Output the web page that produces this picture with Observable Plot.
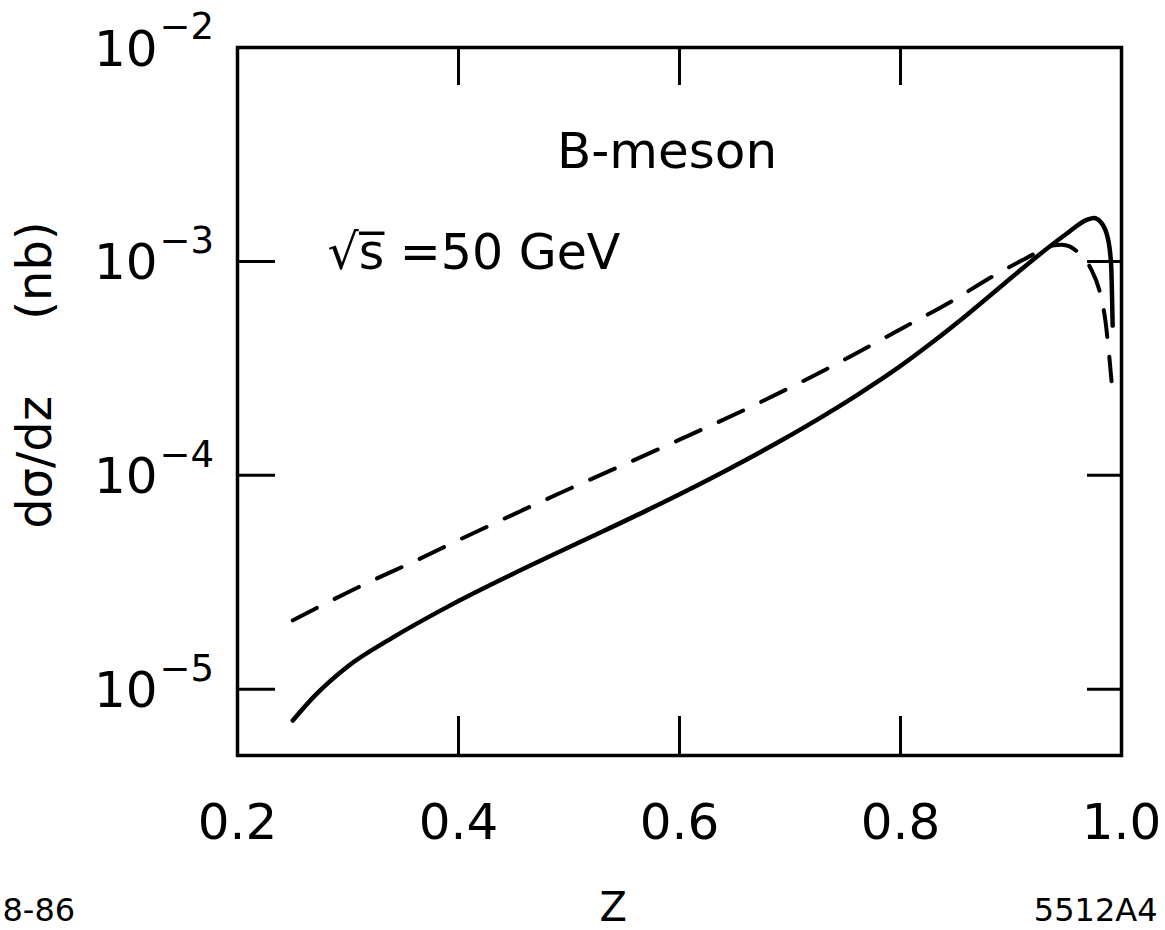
<!DOCTYPE html>
<html><head><meta charset="utf-8">
<script src="https://cdn.jsdelivr.net/npm/d3@7"></script>
<script src="https://cdn.jsdelivr.net/npm/@observablehq/plot@0.6"></script>
<style>html,body{margin:0;padding:0;background:#fff}svg{display:block}</style>
</head><body><div id="chart"></div>
<script>
// Tick values and labels
const xTicks = [0.2, 0.4, 0.6, 0.8, 1.0];
const xTickLabels = ["0.2", "0.4", "0.6", "0.8", "1.0"];
const yTicks = [1e-2, 1e-3, 1e-4, 1e-5];
const yTickExponents = ["\u22122", "\u22123", "\u22124", "\u22125"];

// Solid curve
const solidZ = [0.25, 0.27, 0.30, 0.34, 0.39, 0.45, 0.51, 0.57, 0.64, 0.69, 0.73, 0.76, 0.79, 0.83, 0.86, 0.89, 0.92, 0.95, 0.969, 0.975, 0.981, 0.9876, 0.9906, 0.992];
const solidV = [7.14e-6, 9.33e-6, 1.282e-5, 1.738e-5, 2.427e-5, 3.475e-5, 4.875e-5, 6.84e-5, 1.040e-4, 1.435e-4, 1.892e-4, 2.360e-4, 2.985e-4, 4.236e-4, 5.623e-4, 7.568e-4, 1.019e-3, 1.343e-3, 1.567e-3, 1.596e-3, 1.531e-3, 1.285e-3, 9.64e-4, 5.01e-4];

// Dashed curve
const dashedZ = [0.25, 0.314, 0.36, 0.403, 0.49, 0.58, 0.667, 0.755, 0.797, 0.85, 0.88, 0.91, 0.924, 0.939, 0.946, 0.953, 0.962, 0.972, 0.981, 0.9855, 0.9885, 0.991];
const dashedV = [2.10e-5, 3.08e-5, 3.96e-5, 5.06e-5, 8.18e-5, 1.318e-4, 2.12e-4, 3.60e-4, 4.73e-4, 6.68e-4, 8.32e-4, 1.012e-3, 1.102e-3, 1.189e-3, 1.197e-3, 1.175e-3, 1.085e-3, 9.31e-4, 6.98e-4, 5.25e-4, 3.79e-4, 2.75e-4];

const solid = solidZ.map((z, i) => ({z, v: solidV[i]}));
const dashed = dashedZ.map((z, i) => ({z, v: dashedV[i]}));
const xInner = xTicks.slice(1, -1);
const yInner = yTicks.slice(1);
const yLab = yTicks.map((v, i) => ({v, e: yTickExponents[i]}));
const xLab = xTicks.map((v, i) => ({v, t: xTickLabels[i]}));

const W = 1165, H = 930, mL = 237, mR = 44, mT = 47, mB = 175;
const iW = W - mL - mR, iH = H - mT - mB;
const font = "'DejaVu Sans', 'Liberation Sans', Arial, sans-serif";

const chart = Plot.plot({
  width: W, height: H,
  marginLeft: mL, marginRight: mR, marginTop: mT, marginBottom: mB,
  x: {domain: [0.2, 1.0], axis: null},
  y: {type: "log", domain: [4.9e-6, 1e-2], axis: null},
  style: {fontFamily: font, color: "black", background: "white"},
  marks: [
    // inward ticks
    Plot.tickX(xInner, {x: d => d, insetTop: iH - 39, stroke: "black", strokeWidth: 3}),
    Plot.tickX(xInner, {x: d => d, insetBottom: iH - 38, stroke: "black", strokeWidth: 3}),
    Plot.tickY(yInner, {y: d => d, insetRight: iW - 38, stroke: "black", strokeWidth: 3}),
    Plot.tickY(yInner, {y: d => d, insetLeft: iW - 34, stroke: "black", strokeWidth: 3}),
    Plot.frame({stroke: "black", strokeWidth: 3.5}),
    // curves
    Plot.line(solid, {x: "z", y: "v", curve: "monotone-x", stroke: "black", strokeWidth: 4.5, strokeLinecap: "round"}),
    Plot.line(dashed, {x: "z", y: "v", curve: "monotone-x", stroke: "black", strokeWidth: 4, strokeDasharray: "27,20", strokeLinecap: "round"}),
    // x tick labels
    Plot.text(xLab, {x: "v", text: "t", frameAnchor: "bottom", dy: 83, lineAnchor: "bottom", fontSize: 50, fill: "black"}),
    // y tick labels (10 with superscript exponent)
    Plot.text(yLab, {y: "v", text: () => "10", frameAnchor: "left", dx: -80, dy: 2, textAnchor: "end", lineAnchor: "middle", fontSize: 50, fill: "black"}),
    Plot.text(yLab, {y: "v", text: "e", frameAnchor: "left", dx: -78, dy: -20, textAnchor: "start", lineAnchor: "middle", fontSize: 37, fill: "black"}),
    // axis titles
    Plot.text(["dσ/dz"], {text: d => d, frameAnchor: "top-left", dx: 35 - mL, dy: 462 - mT, rotate: -90, textAnchor: "middle", lineAnchor: "middle", fontSize: 48, fill: "black"}),
    Plot.text(["(nb)"], {text: d => d, frameAnchor: "top-left", dx: 35 - mL, dy: 270 - mT, rotate: -90, textAnchor: "middle", lineAnchor: "middle", fontSize: 48, fill: "black"}),
    Plot.text(["Z"], {x: () => 0.54, text: d => d, frameAnchor: "bottom", dy: 165, lineAnchor: "bottom", fontSize: 40, fill: "black"}),
    // annotations
    Plot.text(["B-meson"], {x: () => 0.5887, y: () => 2.72e-3, text: d => d, textAnchor: "middle", lineAnchor: "bottom", fontSize: 50, fill: "black"}),
    Plot.text(["\u221As\u0305 =50 GeV"], {x: () => 0.2814, y: () => 9.18e-4, text: d => d, textAnchor: "start", lineAnchor: "bottom", fontSize: 49, fill: "black"}),
    Plot.text(["8-86"], {text: d => d, frameAnchor: "bottom-left", dx: 2 - mL, dy: 165, textAnchor: "start", lineAnchor: "bottom", fontSize: 32, fill: "black"}),
    Plot.text(["5512A4"], {text: d => d, frameAnchor: "bottom-right", dx: 36, dy: 165, textAnchor: "end", lineAnchor: "bottom", fontSize: 32, fill: "black"})
  ]
});
document.getElementById("chart").appendChild(chart);
</script>
</body></html>
